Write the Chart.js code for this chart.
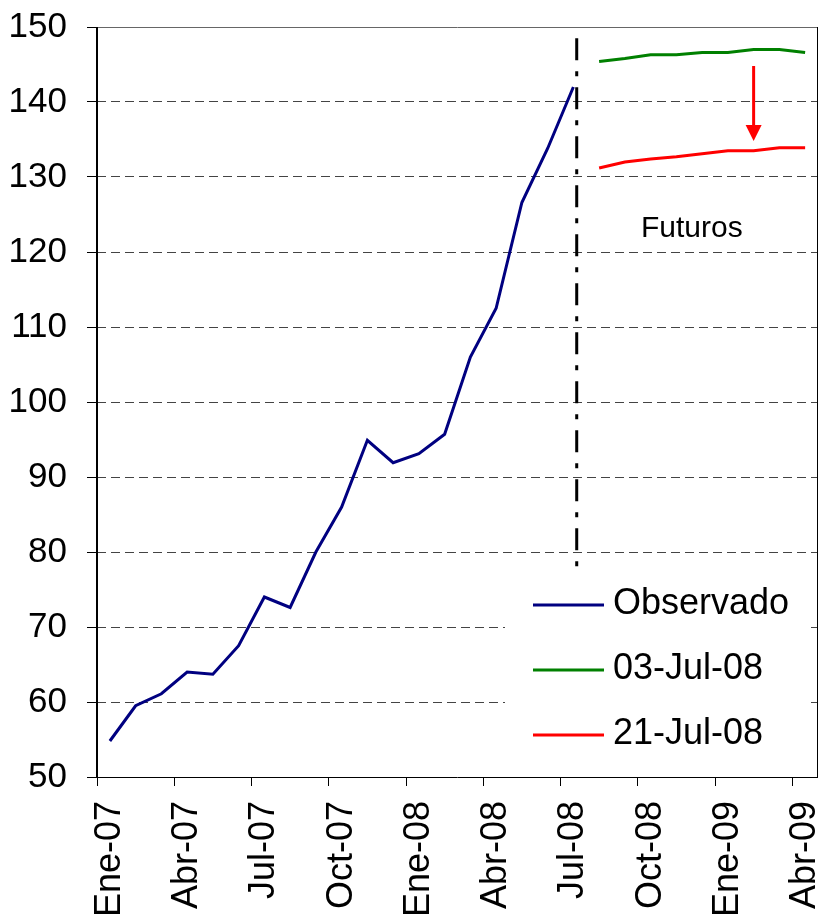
<!DOCTYPE html>
<html>
<head>
<meta charset="utf-8">
<title>Observado y futuros</title>
<script src="https://cdn.jsdelivr.net/npm/chart.js@4.4.1/dist/chart.umd.min.js"></script>
<style>
  html, body { margin: 0; padding: 0; background: #fff; }
  #wrap { width: 823px; height: 920px; }
</style>
</head>
<body>
<div id="wrap"><canvas id="priceChart" width="823" height="920"></canvas></div>
<script>
/* Observado vs futuros */

// Categories: one per month, Ene-07 .. Abr-09
const months = [
    'Ene-07', 'Feb-07', 'Mar-07', 'Abr-07', 'May-07', 'Jun-07', 'Jul-07', 'Ago-07', 'Sep-07', 'Oct-07', 'Nov-07', 'Dic-07',
    'Ene-08', 'Feb-08', 'Mar-08', 'Abr-08', 'May-08', 'Jun-08', 'Jul-08', 'Ago-08', 'Sep-08', 'Oct-08', 'Nov-08', 'Dic-08',
    'Ene-09', 'Feb-09', 'Mar-09', 'Abr-09'
];

// Observed series (Ene-07 .. Jul-08)
const observado = [54.8, 59.5, 61.1, 64.0, 63.7, 67.5, 74.0, 72.6, 80.0, 86.0, 94.9, 91.9,
                   93.1, 95.7, 106.0, 112.5, 126.6, 133.8, 142.0];

// Futures curves (Ago-08 .. Abr-09)
const futuros03Jul = [145.4, 145.8, 146.3, 146.3, 146.6, 146.6, 147.0, 147.0, 146.6];
const futuros21Jul = [131.2, 132.0, 132.4, 132.7, 133.1, 133.5, 133.5, 133.9, 133.9];

// Y axis
const yMin = 50;
const yMax = 150;
const yStep = 10;

// Annotations
const cutoffPos = 18.13;          // dash-dot line just after Jul-08
const cutoffRange = [148.5, 77.7];
const arrowPos = 25;              // Feb-09
const arrowRange = [144.8, 134.8];
const futurosLabel = { text: 'Futuros', pos: 22.6, value: 122.0 };

const FONT = "'Liberation Sans', Arial, sans-serif";

// pad series onto the full month axis
const futStart = observado.length;
const obsData = months.map((m, i) => i < observado.length ? observado[i] : null);
const fut03Data = months.map((m, i) => i >= futStart ? futuros03Jul[i - futStart] : null);
const fut21Data = months.map((m, i) => i >= futStart ? futuros21Jul[i - futStart] : null);

// Vertical dash-dot divider, arrow and "Futuros" text
const annotationsPlugin = {
    id: 'annotations',
    beforeDatasetsDraw(chart) {
        const { ctx, scales: { x, y } } = chart;
        const px = x.getPixelForValue(cutoffPos);
        ctx.save();
        ctx.strokeStyle = '#000';
        ctx.lineWidth = 3;
        ctx.setLineDash([22, 11, 5, 11]);
        ctx.beginPath();
        ctx.moveTo(px, y.getPixelForValue(cutoffRange[0]));
        ctx.lineTo(px, y.getPixelForValue(cutoffRange[1]));
        ctx.stroke();
        ctx.restore();
    },
    afterDatasetsDraw(chart) {
        const { ctx, scales: { x, y } } = chart;
        const ax = x.getPixelForValue(arrowPos);
        const y1 = y.getPixelForValue(arrowRange[0]);
        const y2 = y.getPixelForValue(arrowRange[1]);
        ctx.save();
        ctx.strokeStyle = '#ff0000';
        ctx.fillStyle = '#ff0000';
        ctx.lineWidth = 3;
        ctx.beginPath();
        ctx.moveTo(ax, y1);
        ctx.lineTo(ax, y2 - 14);
        ctx.stroke();
        ctx.beginPath();
        ctx.moveTo(ax - 8, y2 - 16);
        ctx.lineTo(ax + 8, y2 - 16);
        ctx.lineTo(ax, y2);
        ctx.closePath();
        ctx.fill();

        ctx.fillStyle = '#000';
        ctx.font = '30px ' + FONT;
        ctx.textAlign = 'center';
        ctx.textBaseline = 'alphabetic';
        ctx.fillText(futurosLabel.text, x.getPixelForValue(futurosLabel.pos), y.getPixelForValue(futurosLabel.value));
        ctx.restore();
    }
};

// Legend inside the plot, lower right, on a white box
const legendBoxPlugin = {
    id: 'legendBox',
    afterDatasetsDraw(chart) {
        const { ctx, chartArea: a } = chart;
        const w = 303, h = 192;
        const x0 = a.right - 10 - w;
        const y0 = a.bottom - 12 - h;
        ctx.save();
        ctx.fillStyle = '#fff';
        ctx.fillRect(x0, y0, w, h);
        ctx.font = '36px ' + FONT;
        ctx.textAlign = 'left';
        ctx.textBaseline = 'alphabetic';
        chart.data.datasets.forEach((ds, i) => {
            const ly = y0 + 32 + i * 65;
            ctx.strokeStyle = ds.borderColor;
            ctx.lineWidth = 3;
            ctx.beginPath();
            ctx.moveTo(x0 + 28, ly);
            ctx.lineTo(x0 + 99, ly);
            ctx.stroke();
            ctx.fillStyle = '#000';
            ctx.fillText(ds.label, x0 + 108, ly + 9);
        });
        ctx.restore();
    }
};

// Plot frame
const framePlugin = {
    id: 'frame',
    afterDraw(chart) {
        const { ctx, chartArea: a } = chart;
        ctx.save();
        ctx.lineWidth = 1;
        ctx.strokeStyle = '#666';
        ctx.beginPath();
        ctx.moveTo(a.left, a.top + 0.5);
        ctx.lineTo(a.right, a.top + 0.5);
        ctx.stroke();
        ctx.strokeStyle = '#000';
        ctx.beginPath();
        ctx.moveTo(a.right - 0.5, a.top);
        ctx.lineTo(a.right - 0.5, a.bottom);
        ctx.moveTo(a.left, a.bottom + 0.5);
        ctx.lineTo(a.right, a.bottom + 0.5);
        ctx.stroke();
        ctx.lineWidth = 2;
        ctx.beginPath();
        ctx.moveTo(a.left, a.top);
        ctx.lineTo(a.left, a.bottom + 1);
        ctx.stroke();
        ctx.restore();
    }
};

const ctx = document.getElementById('priceChart').getContext('2d');
new Chart(ctx, {
    type: 'line',
    data: {
        labels: months,
        datasets: [
            { label: 'Observado', data: obsData, borderColor: '#000080', borderWidth: 3 },
            { label: '03-Jul-08', data: fut03Data, borderColor: '#008000', borderWidth: 3 },
            { label: '21-Jul-08', data: fut21Data, borderColor: '#ff0000', borderWidth: 3 }
        ]
    },
    options: {
        responsive: false,
        animation: false,
        devicePixelRatio: 1,
        layout: { padding: { top: 27, right: 5, left: 0, bottom: 0 } },
        elements: {
            line: { tension: 0, fill: false, borderCapStyle: 'butt' },
            point: { radius: 0, hoverRadius: 0 }
        },
        plugins: {
            legend: { display: false },
            tooltip: { enabled: false }
        },
        scales: {
            x: {
                type: 'category',
                offset: true,
                border: { display: false },
                grid: {
                    offset: true,
                    drawOnChartArea: false,
                    drawTicks: true,
                    tickLength: 9,
                    tickWidth: 1,
                    tickColor: (c) => (c.index % 3 === 0 && c.index < months.length) ? '#000' : 'rgba(0,0,0,0)'
                },
                ticks: {
                    autoSkip: false,
                    minRotation: 90,
                    maxRotation: 90,
                    padding: 15,
                    color: '#000',
                    font: { family: FONT, size: 36 },
                    callback: (value, index) => index % 3 === 0 ? months[index] : ''
                },
                afterFit: (scale) => {
                    scale.height = 143;
                    scale.paddingLeft = 0;
                    scale.paddingRight = 0;
                }
            },
            y: {
                min: yMin,
                max: yMax,
                border: { display: false, dash: [9, 5] },
                grid: {
                    color: '#444',
                    lineWidth: 1,
                    drawTicks: true,
                    tickLength: 10,
                    tickColor: '#000',
                    tickBorderDash: []
                },
                ticks: {
                    stepSize: yStep,
                    padding: 20,
                    color: '#000',
                    font: { family: FONT, size: 35 }
                },
                afterFit: (scale) => {
                    scale.width = 97;
                    scale.paddingTop = 0;
                    scale.paddingBottom = 0;
                }
            }
        }
    },
    plugins: [annotationsPlugin, legendBoxPlugin, framePlugin]
});
</script>
</body>
</html>
